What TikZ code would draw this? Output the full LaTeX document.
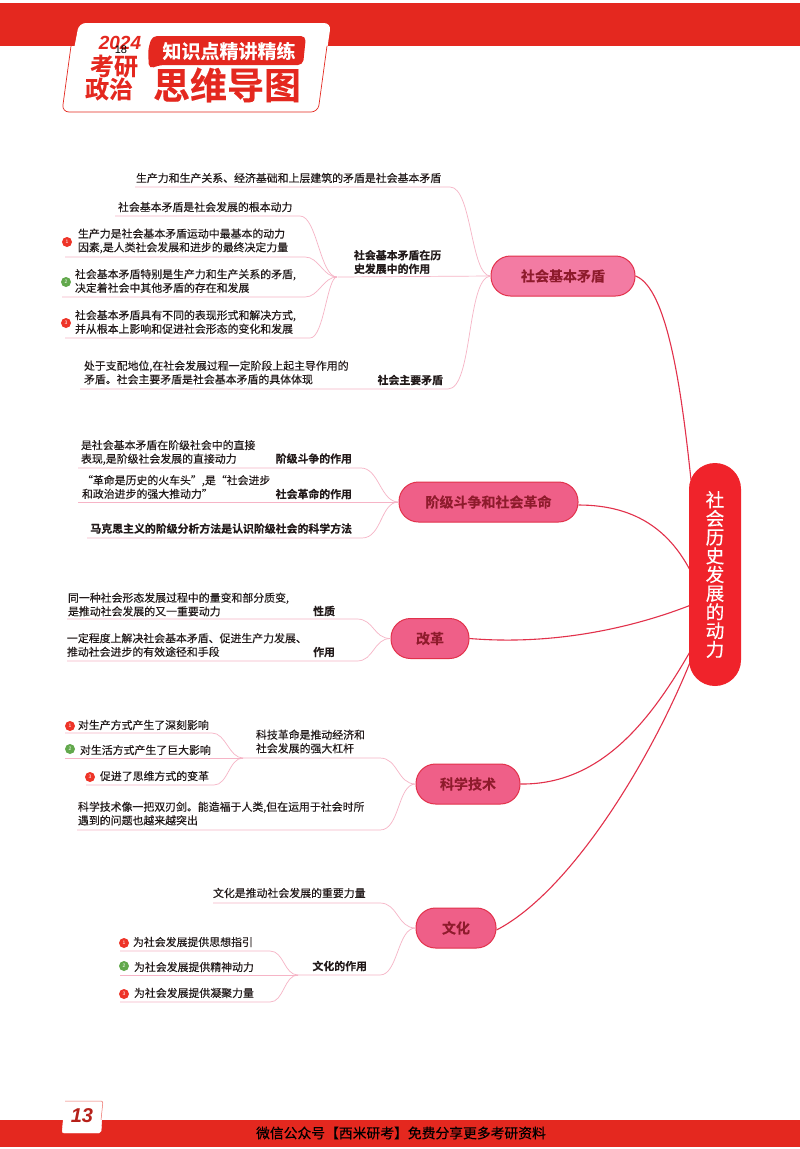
\documentclass[tikz,border=0pt]{standalone}
\usepackage{fontspec}
\setmainfont{Noto Sans CJK SC}[BoldFont={Noto Sans CJK SC Bold},FakeBold=0.25]
\newfontfamily\latinf{Liberation Sans}
\definecolor{bandred}{HTML}{E4281F}
\definecolor{rootred}{HTML}{F0232B}
\definecolor{pinkfill}{HTML}{EF5F88}
\definecolor{pinklight}{HTML}{F37BA3}
\definecolor{pinkedge}{HTML}{E2314B}
\definecolor{darkred}{HTML}{8E1B2C}
\definecolor{branchpink}{HTML}{F6B4C6}
\definecolor{ink}{HTML}{221A1A}
\definecolor{dotred}{HTML}{EE3428}
\definecolor{dotgreen}{HTML}{62A84C}
\tikzset{
  x=1pt,y=-1pt,
  body/.style={inner sep=0pt,outer sep=0pt,text=ink,align=left,font=\fontsize{10.9}{13.6}\selectfont},
  bodyb/.style={body,font=\fontsize{10.9}{13.6}\selectfont\bfseries},
  topic/.style={draw=pinkedge,line width=1pt,fill=pinkfill,rounded corners=19.5pt,minimum height=40pt,inner sep=0pt,text=darkred,font=\fontsize{14}{16}\selectfont\bfseries},
  branch/.style={draw=branchpink,line width=0.7pt},
  trunk/.style={draw=pinkedge,line width=1.1pt},
  numdot/.style={circle,minimum size=10pt,inner sep=0pt,text=white,font=\latinf\fontsize{5}{5}\selectfont},
  reddot/.style={numdot,fill=dotred},
  greendot/.style={numdot,fill=dotgreen},
  headline/.style={inner sep=0pt,text=bandred,font=\bfseries},
}
\begin{document}
\begin{tikzpicture}
\useasboundingbox (0,0) rectangle (800,1149);
\fill[white] (0,0) rectangle (800,1149);
% header
\fill[bandred] (0,3) rectangle (800,46);
\fill[white,rounded corners=7pt] (79,23) -- (331,23) -- (318,112) -- (62,112) -- cycle;
\draw[bandred,line width=0.7pt,rounded corners=7pt] (71,46) -- (62,112) -- (318,112) -- (327,46);
\fill[bandred,rounded corners=5pt] (152,36) -- (306,36) -- (303,65) -- (160,65) -- (149,69) -- (148,50) -- cycle;
\node[headline,font=\latinf\bfseries\itshape\fontsize{19}{19}\selectfont] (yr) at (120,43) {2024};
\node[inner sep=0pt,text=black,font=\latinf\fontsize{11}{11}\selectfont] (pg) at (121,50) {18};
\node[headline,font=\bfseries\fontsize{24}{24}\selectfont] (ky) at (114,66) {考研};
\node[headline,font=\bfseries\fontsize{24}{24}\selectfont] (zz) at (109,89) {政治};
\node[inner sep=0pt,text=white,font=\bfseries\fontsize{19}{19}\selectfont] (zs) at (229,51) {知识点精讲精练};
\node[headline,font=\bfseries\fontsize{37}{37}\selectfont] (sw) at (227,85) {思维导图};
% footer
\fill[bandred] (0,1120) rectangle (800,1147);
\draw[white,fill=white,rounded corners=2pt] (65,1101) -- (103,1101) -- (101,1133) -- (62,1133) -- cycle;
\draw[bandred!70,line width=0.5pt,rounded corners=2pt] (65,1101) -- (103,1101) -- (101,1120);
\node[inner sep=0pt,text=bandred!80!black,font=\latinf\bfseries\itshape\fontsize{20}{20}\selectfont] (pn) at (82,1116) {13};
\node[inner sep=0pt,text=black,font=\fontsize{13.8}{14}\selectfont] (ft) at (401,1133) {微信公众号【西米研考】免费分享更多考研资料};

% main nodes
\node[topic,fill=pinklight,minimum width=144pt] (n1) at (563,276) {社会基本矛盾};
\node[topic,minimum width=179pt] (n2) at (488.5,502) {阶级斗争和社会革命};
\node[topic,minimum width=78pt] (n3) at (430,638.5) {改革};
\node[topic,minimum width=104pt] (n4) at (468,784) {科学技术};
\node[topic,minimum width=80pt] (n5) at (456,928) {文化};
\coordinate (r1) at (691,480);
\coordinate (r2) at (691,572);
\coordinate (r3) at (691,605);
\coordinate (r4) at (691,650);
\coordinate (r5) at (691,660);
\draw[trunk] (n1.east) .. controls (668,288) and (682,395) .. (r1);
\draw[trunk] (n2.east) ++(0,3) .. controls (640,505) and (672,535) .. (r2);
\draw[trunk] (n3.east) .. controls (560,646) and (640,625) .. (r3);
\draw[trunk] (n4.east) .. controls (600,785) and (650,722) .. (r4);
\draw[trunk] (n5.east) ++(0,2) .. controls (570,892) and (650,762) .. (r5);
\node[fill=rootred,rounded corners=26pt,minimum width=52pt,minimum height=223pt,inner sep=0pt,text=white,align=center,font=\fontsize{18.6}{18.7}\selectfont] (root) at (715,574.5) {社\\会\\历\\史\\发\\展\\的\\动\\力};

% branch 1
\coordinate (h1) at (337,277);
\coordinate (u1) at (135,187);
\coordinate (u2) at (338,277);
\coordinate (u3) at (80,389);
\coordinate (u4) at (115,216);
\coordinate (u5) at (65,257);
\coordinate (u6) at (62,297);
\coordinate (u7) at (65,338);
\draw[branch] (u1) -- ++(315,0) .. controls +(22,0) and +(-20,0) .. (n1.west);
\draw[branch] (u2) -- (n1.west);
\draw[branch] (u3) -- ++(368,0) .. controls +(25,0) and +(-24,2) .. (n1.west);
\draw[branch] (u4) -- ++(185,0) .. controls +(17,0) and +(-17,0) .. (h1);
\draw[branch] (u5) -- ++(240,0) .. controls +(14,0) and +(-14,0) .. (h1);
\draw[branch] (u6) -- ++(243,0) .. controls +(14,0) and +(-14,0) .. (h1);
\draw[branch] (u7) -- ++(245,0) .. controls +(14,0) and +(-10,0) .. (h1);
\node[body,anchor=west] (t1) at (136,178) {生产力和生产关系、经济基础和上层建筑的矛盾是社会基本矛盾};
\node[body,anchor=west] (t2) at (118,207) {社会基本矛盾是社会发展的根本动力};
\node[reddot] (d1) at (67,242) {1};
\node[body,anchor=west] (t3) at (78,241) {生产力是社会基本矛盾运动中最基本的动力\\因素,是人类社会发展和进步的最终决定力量};
\node[greendot] (d2) at (66,282) {2};
\node[body,anchor=west] (t4) at (75,281) {社会基本矛盾特别是生产力和生产关系的矛盾,\\决定着社会中其他矛盾的存在和发展};
\node[reddot] (d3) at (66,323) {3};
\node[body,anchor=west] (t5) at (75,322) {社会基本矛盾具有不同的表现形式和解决方式,\\并从根本上影响和促进社会形态的变化和发展};
\node[bodyb,anchor=west] (t6) at (354,262) {社会基本矛盾在历\\史发展中的作用};
\node[body,anchor=west] (t7) at (84,372.5) {处于支配地位,在社会发展过程一定阶段上起主导作用的\\矛盾。社会主要矛盾是社会基本矛盾的具体体现};
\node[bodyb,anchor=east] (t8) at (443,380) {社会主要矛盾};

% branch 2
\coordinate (u8) at (78,468);
\coordinate (u9) at (78,502);
\coordinate (u10) at (87,538);
\draw[branch] (u8) -- ++(283,0) .. controls +(18,0) and +(-18,0) .. (n2.west);
\draw[branch] (u9) -- (n2.west);
\draw[branch] (u10) -- ++(275,0) .. controls +(20,0) and +(-18,0) .. (n2.west);
\node[body,anchor=west] (t9) at (81,452.5) {是社会基本矛盾在阶级社会中的直接\\表现,是阶级社会发展的直接动力};
\node[bodyb,anchor=east] (t10) at (352,458.5) {阶级斗争的作用};
\node[body,anchor=west] (t11) at (82,487) {“革命是历史的火车头”,是“社会进步\\和政治进步的强大推动力”};
\node[bodyb,anchor=east] (t12) at (352,494) {社会革命的作用};
\node[bodyb,anchor=east] (t13) at (352,528.5) {马克思主义的阶级分析方法是认识阶级社会的科学方法};

% branch 3
\coordinate (u11) at (67,619);
\coordinate (u12) at (67,661);
\draw[branch] (u11) -- ++(290,0) .. controls +(17,0) and +(-17,0) .. (n3.west);
\draw[branch] (u12) -- ++(290,0) .. controls +(17,0) and +(-17,0) .. (n3.west);
\node[body,anchor=west] (t14) at (68,604.5) {同一种社会形态发展过程中的量变和部分质变,\\是推动社会发展的又一重要动力};
\node[bodyb,anchor=east] (t15) at (335,611) {性质};
\node[body,anchor=west] (t16) at (67,645) {一定程度上解决社会基本矛盾、促进生产力发展、\\推动社会进步的有效途径和手段};
\node[bodyb,anchor=east] (t17) at (335,652) {作用};

% branch 4
\coordinate (h2) at (243,758);
\coordinate (u13) at (65,733);
\coordinate (u14) at (65,758);
\coordinate (u15) at (86,785);
\coordinate (u16) at (243,758);
\coordinate (u17) at (77,830);
\draw[branch] (u13) -- ++(147,0) .. controls +(14,0) and +(-14,0) .. (h2);
\draw[branch] (u14) -- (h2);
\draw[branch] (u15) -- ++(128,0) .. controls +(14,0) and +(-14,0) .. (h2);
\draw[branch] (u16) -- ++(137,0) .. controls +(18,0) and +(-18,0) .. (n4.west);
\draw[branch] (u17) -- ++(303,0) .. controls +(20,0) and +(-18,0) .. (n4.west);
\node[reddot] (d4) at (70,726) {1};
\node[body,anchor=west] (t18) at (78,725) {对生产方式产生了深刻影响};
\node[greendot] (d5) at (70,749) {2};
\node[body,anchor=west] (t19) at (80,750) {对生活方式产生了巨大影响};
\node[reddot] (d6) at (90,777) {3};
\node[body,anchor=west] (t20) at (100,776) {促进了思维方式的变革};
\node[body,anchor=west] (t21) at (256,741.5) {科技革命是推动经济和\\社会发展的强大杠杆};
\node[body,anchor=west] (t22) at (78,813.5) {科学技术像一把双刃剑。能造福于人类,但在运用于社会时所\\遇到的问题也越来越突出};

% branch 5
\coordinate (h3) at (298,975);
\coordinate (u18) at (213,903);
\coordinate (u19) at (298,975);
\coordinate (u20) at (120,951);
\coordinate (u21) at (120,975);
\coordinate (u22) at (120,1002);
\draw[branch] (u18) -- ++(167,0) .. controls +(18,0) and +(-18,0) .. (n5.west);
\draw[branch] (u19) -- ++(82,0) .. controls +(18,0) and +(-18,0) .. (n5.west);
\draw[branch] (u20) -- ++(150,0) .. controls +(14,0) and +(-14,0) .. (h3);
\draw[branch] (u21) -- (h3);
\draw[branch] (u22) -- ++(150,0) .. controls +(14,0) and +(-14,0) .. (h3);
\node[body,anchor=west] (t23) at (213,893) {文化是推动社会发展的重要力量};
\node[bodyb,anchor=east] (t24) at (367,966) {文化的作用};
\node[reddot] (d7) at (124,943) {1};
\node[body,anchor=west] (t25) at (133,942) {为社会发展提供思想指引};
\node[greendot] (d8) at (124,966) {2};
\node[body,anchor=west] (t26) at (134,967) {为社会发展提供精神动力};
\node[reddot] (d9) at (124,994) {3};
\node[body,anchor=west] (t27) at (134,993) {为社会发展提供凝聚力量};
\end{tikzpicture}
\end{document}
